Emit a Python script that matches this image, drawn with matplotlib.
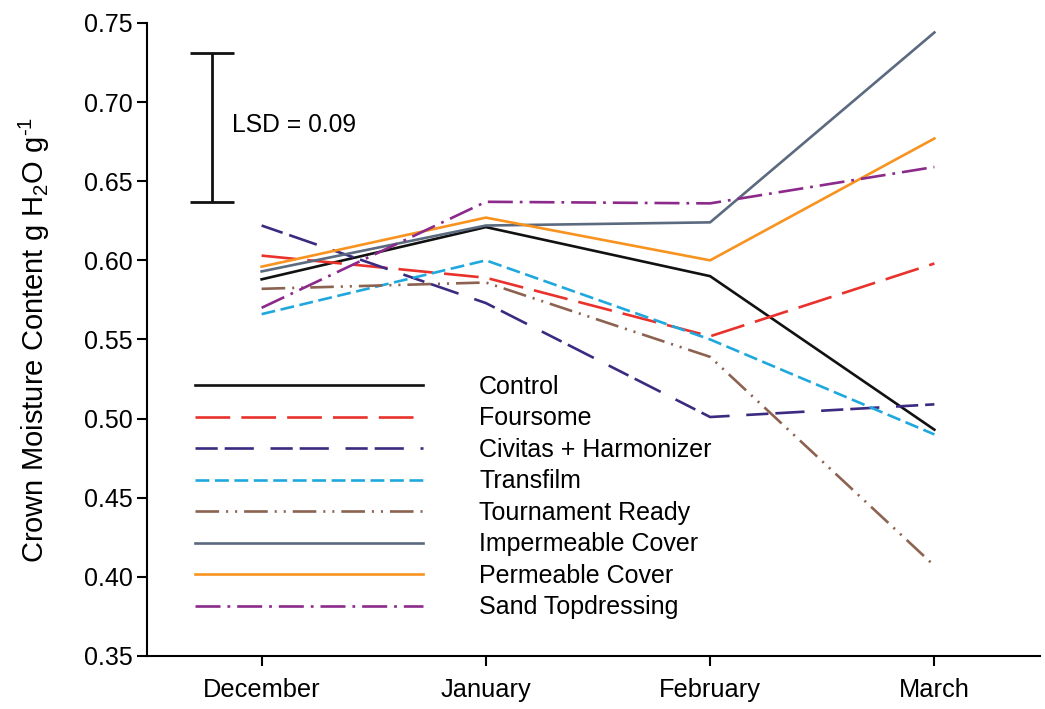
import matplotlib
matplotlib.use("Agg")
import matplotlib.pyplot as plt

plt.rcParams['font.family'] = ['Liberation Sans', 'DejaVu Sans']
plt.rcParams['mathtext.fontset'] = 'custom'
plt.rcParams['mathtext.rm'] = 'Liberation Sans'
plt.rcParams['mathtext.it'] = 'Liberation Sans'
plt.rcParams['lines.scale_dashes'] = False

# data
months = ["December", "January", "February", "March"]
control = [0.588, 0.621, 0.590, 0.493]
foursome = [0.603, 0.589, 0.552, 0.598]
civitas = [0.622, 0.573, 0.501, 0.509]
transfilm = [0.566, 0.600, 0.550, 0.490]
tournament = [0.582, 0.586, 0.539, 0.407]
impermeable = [0.593, 0.622, 0.624, 0.744]
permeable = [0.596, 0.627, 0.600, 0.677]
sand = [0.570, 0.637, 0.636, 0.659]
lsd_low, lsd_high = 0.637, 0.731

# (label, values, colour, dash pattern in points)
series = [
    ("Control", control, "#111111", "-"),
    ("Foursome", foursome, "#e8322b", (0, (25, 8))),
    ("Civitas + Harmonizer", civitas, "#3b2a80", (0, (16, 5, 21, 12))),
    ("Transfilm", transfilm, "#1fa8dd", (0, (10, 4))),
    ("Tournament Ready", tournament, "#8c6250", (0, (17, 5, 1.5, 5, 1.5, 5))),
    ("Impermeable Cover", impermeable, "#5b6a7f", "-"),
    ("Permeable Cover", permeable, "#f7931e", "-"),
    ("Sand Topdressing", sand, "#8b2a8a", (0, (18, 5, 2, 5))),
]

fig = plt.figure(figsize=(10.45, 7.09), dpi=100)
ax = fig.add_axes([0.1407, 0.0748, 0.8543, 0.8928])

x = list(range(len(months)))
for name, vals, col, ls in series:
    ax.plot(x, vals, color=col, linestyle=ls, linewidth=1.9, label=name)

# LSD bar
lsd_x = -0.222
ax.errorbar([lsd_x], [(lsd_low + lsd_high) / 2], yerr=[(lsd_high - lsd_low) / 2],
            color="#111111", capsize=16, capthick=2, elinewidth=2)
ax.text(lsd_x + 0.09, 0.6855, "LSD = 0.09", fontsize=17.7, va="center", ha="left")

ax.set_xlim(-0.511, 3.47)
ax.set_ylim(0.35, 0.75)
ax.set_xticks(x)
ax.set_xticklabels(months, fontsize=18.3)
ax.set_yticks([0.35 + 0.05 * i for i in range(9)])
ax.set_yticklabels([f"{0.35 + 0.05 * i:.2f}" for i in range(9)], fontsize=18)
ax.tick_params(axis="both", width=1.5, length=7, direction="out")
ax.tick_params(axis="x", pad=9)

for s in ["top", "right"]:
    ax.spines[s].set_visible(False)
for s in ["left", "bottom"]:
    ax.spines[s].set_linewidth(1.5)

ax.set_ylabel(r"Crown Moisture Content g H$_2$O g$^{\text{-}1}$", fontsize=21, labelpad=23)

ax.legend(loc="upper left", bbox_to_anchor=(0.043, 0.46), frameon=False,
          fontsize=18, handlelength=9.1, handletextpad=2.25, labelspacing=0.3,
          borderaxespad=0)

fig.savefig("out.png", dpi=100)
